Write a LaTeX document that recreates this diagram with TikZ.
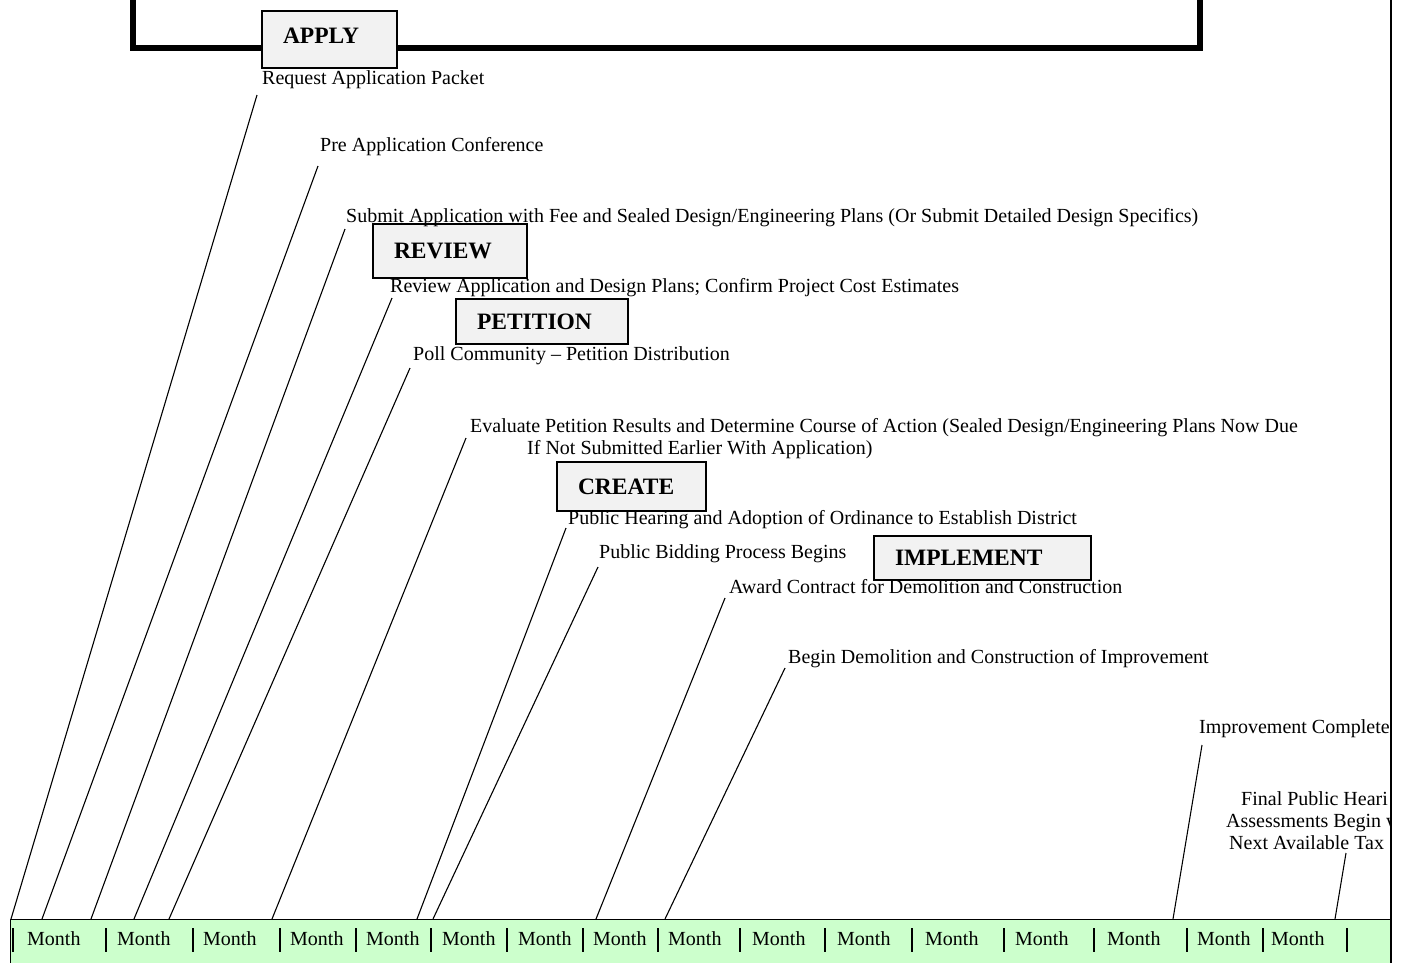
\documentclass[tikz,border=0pt]{standalone}
\usepackage{fontspec}
\setmainfont{Liberation Serif}
\newcommand{\lblfont}{\fontsize{20}{23}\selectfont}
\newcommand{\phasefont}{\fontsize{23.5}{26}\selectfont\bfseries}
\definecolor{barGreen}{RGB}{204,255,204}
\definecolor{boxGray}{RGB}{242,242,242}
\begin{document}
\begin{tikzpicture}[x=1pt,y=-1pt,
  lbl/.style={anchor=base west, inner sep=0pt, font=\lblfont},
  phase/.style={draw, line width=2pt, fill=boxGray, anchor=north west, font=\phasefont, inner xsep=21pt, inner ysep=0pt, align=left},
  leader/.style={line width=1.1pt},
  sepline/.style={line width=1.6pt},
  month/.style={anchor=base west, inner sep=0pt, font=\lblfont}]
\clip (0,0) rectangle (1405,962);
% top frame
\draw[line width=6pt] (132.5,-10) -- (132.5,48) -- (1200,48) -- (1200,-10);
% right page line
\draw[line width=1.5pt] (1391,0) -- (1391,962);
% month bar
\path[fill=barGreen, draw=black, line width=1.5pt] (10.5,919.5) rectangle (1391,975);

% phase boxes
\node[phase, minimum height=57pt, text width=93pt, text depth=8pt] (apply) at (261,10) {APPLY};
\node[phase, minimum height=54pt, text width=112pt] (review) at (372,223) {REVIEW};
\node[phase, minimum height=45pt, text width=130pt] (petition) at (455,298) {PETITION};
\node[phase, minimum height=49pt, text width=107pt] (create) at (556,461) {CREATE};
\node[phase, minimum height=44pt, text width=175pt] (implement) at (873,535) {IMPLEMENT};

% labels
\node[lbl] (req) at (262,84) {Request Application Packet};
\node[lbl] (pre) at (320,151.5) {Pre Application Conference};
\node[lbl] (sub) at (346,222.5) {Submit Application with Fee and Sealed Design/Engineering Plans (Or Submit Detailed Design Specifics)};
\node[lbl] (rev) at (390,292.5) {Review Application and Design Plans; Confirm Project Cost Estimates};
\node[lbl] (poll) at (413,360.5) {Poll Community – Petition Distribution};
\node[lbl] (eval) at (470,432.5) {Evaluate Petition Results and Determine Course of Action (Sealed Design/Engineering Plans Now Due};
\node[lbl] (evaltwo) at (527,454.5) {If Not Submitted Earlier With Application)};
\node[lbl] (hear) at (568,524.5) {Public Hearing and Adoption of Ordinance to Establish District};
\node[lbl] (bid) at (599,558.5) {Public Bidding Process Begins};
\node[lbl] (award) at (729,593.5) {Award Contract for Demolition and Construction};
\node[lbl] (demo) at (788,663.5) {Begin Demolition and Construction of Improvement};
\begin{scope}
\clip (0,0) rectangle (1390,962);
\node[lbl] (impr) at (1199,733.5) {Improvement Complete};
\node[lbl] (finone) at (1241,805) {Final Public Heari};
\node[lbl] (fintwo) at (1226,827) {Assessments Begin w};
\node[lbl] (finthree) at (1229,849) {Next Available Tax};
\end{scope}

% leader ends
\coordinate (t1) at (257,95);   \coordinate (b1) at (11,919);
\coordinate (t2) at (318,166);  \coordinate (b2) at (42,919);
\coordinate (t3) at (345,229);  \coordinate (b3) at (91,919);
\coordinate (t4) at (392,298);  \coordinate (b4) at (134,919);
\coordinate (t5) at (410,368);  \coordinate (b5) at (169,919);
\coordinate (t6) at (466,438);  \coordinate (b6) at (272,919);
\coordinate (t7) at (566,528);  \coordinate (b7) at (417,919);
\coordinate (t8) at (598,567);  \coordinate (b8) at (433,919);
\coordinate (t9) at (725,598);  \coordinate (b9) at (596,919);
\coordinate (t10) at (785,668); \coordinate (b10) at (665,919);
\coordinate (t11) at (1202,745);\coordinate (b11) at (1173,919);
\coordinate (t12) at (1346,853);\coordinate (b12) at (1335,919);
\foreach \i in {1,...,12} {\draw[leader] (b\i) -- (t\i);}

% month row
\foreach \x [count=\i] in {27,117,203,290,366,442,518,593,668,752,837,925,1015,1107,1197,1271}
  {\node[month] (m\i) at (\x,945) {Month};}
\foreach \x [count=\i] in {13,106,193,280,356,431,507,583,658,740,825,912,1004,1094,1187,1263,1347}
  {\coordinate (st\i) at (\x,928); \coordinate (sb\i) at (\x,952); \draw[sepline] (st\i) -- (sb\i);}
\end{tikzpicture}
\end{document}
